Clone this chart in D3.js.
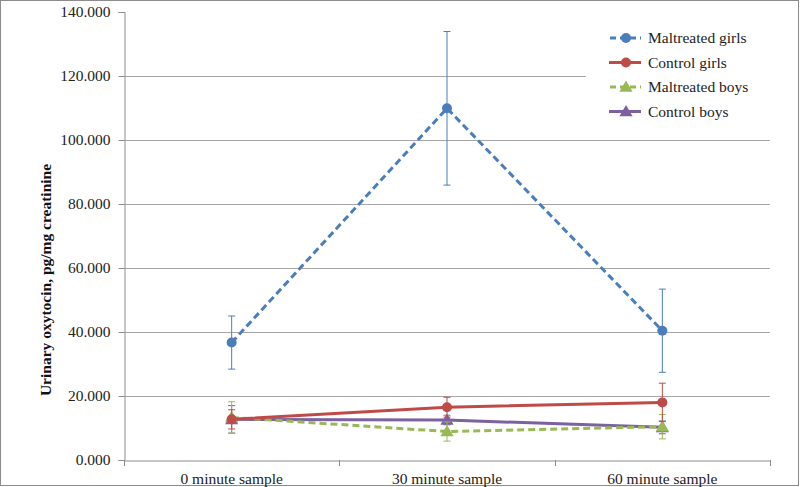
<!DOCTYPE html>
<html><head><meta charset="utf-8">
<script src="https://cdn.jsdelivr.net/npm/d3@7"></script>
<style>body{margin:0;background:#fff}svg text{font-family:'Liberation Serif','Tinos','Times New Roman',serif !important}</style>
</head><body>
<svg id="c" width="800" height="487"></svg>
<script>
const categories = ["0 minute sample","30 minute sample","60 minute sample"];
const yTicks = [0,20,40,60,80,100,120,140];
const seriesNames = ["Maltreated girls","Control girls","Maltreated boys","Control boys"];
const maltreatedGirls = [36.7,109.9,40.4];
const maltreatedGirlsErr = [8.3,24.0,13.0];
const controlGirls = [12.7,16.5,18.0];
const controlGirlsErr = [3.0,3.1,6.0];
const maltreatedBoys = [13.3,8.9,10.4];
const maltreatedBoysErr = [4.9,3.0,3.8];
const controlBoys = [12.7,12.5,10.2];
const controlBoysErr = [4.3,1.5,2.0];

const series = [
  {name:seriesNames[0], v:maltreatedGirls, e:maltreatedGirlsErr, color:"#4a7ebb", dash:"7,4", marker:"circle"},
  {name:seriesNames[1], v:controlGirls, e:controlGirlsErr, color:"#be4b48", dash:null, marker:"circle"},
  {name:seriesNames[2], v:maltreatedBoys, e:maltreatedBoysErr, color:"#98b954", dash:"7,4", marker:"triangle"},
  {name:seriesNames[3], v:controlBoys, e:controlBoysErr, color:"#7d60a0", dash:null, marker:"triangle"}
];

const svg = d3.select("#c");
svg.append("rect").attr("x",0.5).attr("y",0.5).attr("width",798).attr("height",485)
  .attr("fill","#fff").attr("stroke","#8c8c8c").attr("stroke-width",1);

const L=124, R=770, T=12, B=460;
const x = d3.scaleBand().domain(categories).range([L,R]);
const y = d3.scaleLinear().domain([0,140]).range([B,T]);

// gridlines (no line at the top value)
svg.append("g").selectAll("line").data(yTicks.filter(d=>d>0 && d<140)).join("line")
  .attr("x1",L).attr("x2",R).attr("y1",d=>Math.round(y(d))+0.5).attr("y2",d=>Math.round(y(d))+0.5)
  .attr("stroke","#a6a6a6").attr("stroke-width",1);

// y axis
const ya = svg.append("g").attr("transform",`translate(${L+0.5},0)`)
  .call(d3.axisLeft(y).tickValues(yTicks).tickFormat(d3.format(".3f")).tickSize(6).tickPadding(8));
ya.select(".domain").attr("stroke","#8c8c8c");
ya.selectAll(".tick line").attr("stroke","#8c8c8c");
ya.selectAll("text").attr("font-size","15.5px").attr("fill","#222");

// x axis
const xa = svg.append("g").attr("transform",`translate(0,${B+0.5})`)
  .call(d3.axisBottom(x).tickSize(0).tickPadding(12));
xa.select(".domain").attr("stroke","#8c8c8c");
xa.selectAll("text").attr("font-size","15.5px").attr("fill","#222");
const bounds = [L, ...categories.map(c=>x(c)+x.bandwidth())];
svg.append("g").selectAll("line").data(bounds).join("line")
  .attr("x1",d=>Math.round(d)+0.5).attr("x2",d=>Math.round(d)+0.5).attr("y1",B).attr("y2",B+6)
  .attr("stroke","#8c8c8c");

const cx = c => x(c)+x.bandwidth()/2;
const tri = d3.symbol().type(d3.symbolTriangle).size(75);

[...series].reverse().forEach(s=>{
  const g = svg.append("g");
  categories.forEach((c,i)=>{
    const xx = cx(c);
    g.append("line").attr("x1",xx).attr("x2",xx).attr("y1",y(s.v[i]+s.e[i])).attr("y2",y(s.v[i]-s.e[i]))
      .attr("stroke",s.color).attr("stroke-width",1);
    [s.v[i]+s.e[i], s.v[i]-s.e[i]].forEach(v=>{
      g.append("line").attr("x1",xx-3.5).attr("x2",xx+3.5).attr("y1",y(v)).attr("y2",y(v))
        .attr("stroke",s.color).attr("stroke-width",1);
    });
  });
  const line = d3.line().x((d,i)=>cx(categories[i])).y(d=>y(d));
  g.append("path").attr("d",line(s.v)).attr("fill","none").attr("stroke",s.color)
    .attr("stroke-width",3).attr("stroke-dasharray",s.dash);
  s.v.forEach((v,i)=>{
    if(s.marker==="circle") g.append("circle").attr("cx",cx(categories[i])).attr("cy",y(v)).attr("r",5).attr("fill",s.color);
    else g.append("path").attr("d",tri).attr("transform",`translate(${cx(categories[i])},${y(v)+1})`).attr("fill",s.color);
  });
});

// legend
const lg = svg.append("g");
lg.append("rect").attr("x",586).attr("y",20).attr("width",185).attr("height",108).attr("fill","#fff");
series.forEach((s,i)=>{
  const yy = 38 + i*24.5;
  lg.append("line").attr("x1",609).attr("x2",641).attr("y1",yy).attr("y2",yy)
    .attr("stroke",s.color).attr("stroke-width",3).attr("stroke-dasharray",s.dash?"6,4":null)
    .attr("stroke-dashoffset", s.dash? -1:0);
  if(s.marker==="circle") lg.append("circle").attr("cx",626).attr("cy",yy).attr("r",5).attr("fill",s.color);
  else lg.append("path").attr("d",tri).attr("transform",`translate(626,${yy+1})`).attr("fill",s.color);
  lg.append("text").attr("x",648).attr("y",yy+5).attr("font-size","15.5px").attr("fill","#222").text(s.name);
});

svg.append("text").attr("transform","translate(51,280) rotate(-90)").attr("text-anchor","middle")
  .attr("font-weight","bold").attr("font-size","15.5px").attr("fill","#111")
  .text("Urinary oxytocin, pg/mg creatinine");
</script>
</body></html>
